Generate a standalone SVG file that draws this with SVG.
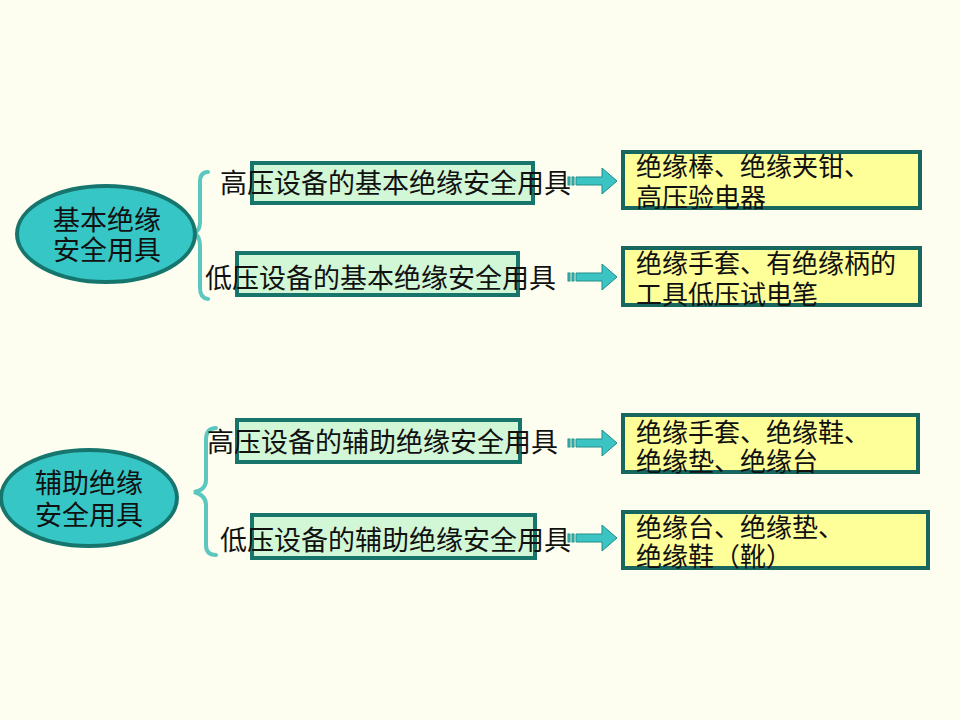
<svg xmlns="http://www.w3.org/2000/svg" width="960" height="720" viewBox="0 0 960 720">
<defs>
<style>
.t{font-family:"Liberation Serif","Noto Sans CJK SC",serif;fill:#111;}
.ell{fill:#36C6C6;stroke:#16766E;stroke-width:4;}
.gbox{fill:#D2F7D6;stroke:#17756C;stroke-width:4;}
.ybox{fill:#FFFF99;stroke:#17675F;stroke-width:4;}
.brace{fill:none;stroke:#5BC7BF;stroke-width:4;stroke-linecap:round;}
.arr{fill:#3CC4C4;stroke:#1F8E88;stroke-width:1;}
</style>
<g id="arrowShape">
<rect x="0" y="-4" width="2" height="8"/>
<rect x="4" y="-4" width="2" height="8"/>
<path d="M8,-4 H34 V-13 L49,0 L34,13 V4 H8 Z"/>
</g>
</defs>
<rect width="960" height="720" fill="#FEFEF0"/>

<g id="connectors">
<path class="brace" d="M208,172 Q200,172 200,182 V222 Q200,231 194,233 Q200,236 200,246 V288 Q200,298 208,299"/>
<path class="brace" d="M216,428 Q206,428 206,440 V480 Q206,490 194,492 Q206,495 206,505 V545 Q206,555 216,555"/>
<use href="#arrowShape" class="arr" x="568" y="181"/>
<use href="#arrowShape" class="arr" x="568" y="277"/>
<use href="#arrowShape" class="arr" x="568" y="443"/>
<use href="#arrowShape" class="arr" x="568" y="538"/>
</g>

<g id="root1">
<ellipse class="ell" cx="106" cy="234" rx="89" ry="48"/>
<text class="t" x="107" y="230" font-size="27" text-anchor="middle">基本绝缘</text>
<text class="t" x="107" y="260" font-size="27" text-anchor="middle">安全用具</text>
</g>
<g id="root2">
<ellipse class="ell" cx="89" cy="498" rx="88" ry="48"/>
<text class="t" x="89" y="493" font-size="27" text-anchor="middle">辅助绝缘</text>
<text class="t" x="89" y="525" font-size="27" text-anchor="middle">安全用具</text>
</g>

<g id="mid1">
<rect class="gbox" x="252" y="163" width="281" height="40"/>
<text class="t" x="220" y="193" font-size="27">高压设备的基本绝缘安全用具</text>
</g>
<g id="mid2">
<rect class="gbox" x="237" y="253" width="281" height="42"/>
<text class="t" x="205" y="288" font-size="27">低压设备的基本绝缘安全用具</text>
</g>
<g id="mid3">
<rect class="gbox" x="237" y="420" width="283" height="42"/>
<text class="t" x="207" y="452" font-size="27">高压设备的辅助绝缘安全用具</text>
</g>
<g id="mid4">
<rect class="gbox" x="252" y="515" width="283" height="43"/>
<text class="t" x="220" y="550" font-size="27">低压设备的辅助绝缘安全用具</text>
</g>

<g id="leaf1">
<rect class="ybox" x="623" y="152" width="297" height="56"/>
<text class="t" x="636" y="176" font-size="26">绝缘棒、绝缘夹钳、</text>
<text class="t" x="636" y="207" font-size="26">高压验电器</text>
</g>
<g id="leaf2">
<rect class="ybox" x="623" y="248" width="297" height="57"/>
<text class="t" x="636" y="273" font-size="26">绝缘手套、有绝缘柄的</text>
<text class="t" x="636" y="304" font-size="26">工具低压试电笔</text>
</g>
<g id="leaf3">
<rect class="ybox" x="623" y="415" width="295" height="57"/>
<text class="t" x="636" y="442" font-size="26">绝缘手套、绝缘鞋、</text>
<text class="t" x="636" y="471" font-size="26">绝缘垫、绝缘台</text>
</g>
<g id="leaf4">
<rect class="ybox" x="623" y="512" width="305" height="56"/>
<text class="t" x="636" y="537" font-size="26">绝缘台、绝缘垫、</text>
<text class="t" x="636" y="566" font-size="26">绝缘鞋（靴）</text>
</g>
</svg>
